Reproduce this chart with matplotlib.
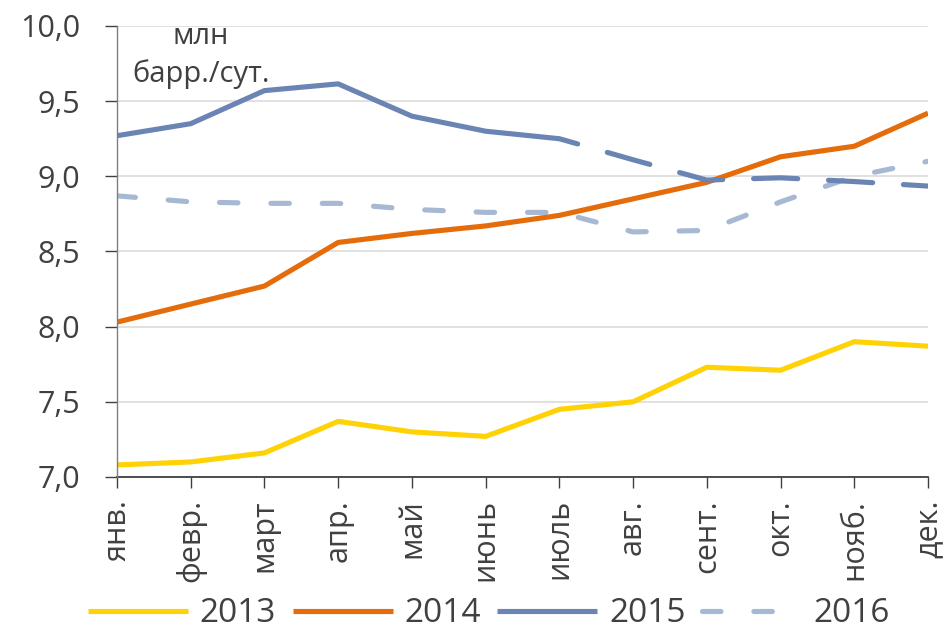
'''
Oil production by month, 2013-2016 (million barrels per day)
'''

import matplotlib
matplotlib.use('Agg')
import matplotlib.pyplot as plt

plt.rcParams['font.family'] = ['Open Sans', 'DejaVu Sans']

# Data
MONTHS = ['янв.', 'февр.', 'март', 'апр.', 'май', 'июнь',
          'июль', 'авг.', 'сент.', 'окт.', 'нояб.', 'дек.']
Y_2013 = [7.08, 7.10, 7.16, 7.37, 7.30, 7.27, 7.45, 7.50, 7.73, 7.71, 7.90, 7.87]
Y_2014 = [8.03, 8.15, 8.27, 8.56, 8.62, 8.67, 8.74, 8.85, 8.96, 9.13, 9.20, 9.42]
Y_2015 = [9.27, 9.35, 9.57, 9.615, 9.40, 9.30, 9.25, 9.11, 8.975, 8.99, 8.965, 8.935]
Y_2016 = [8.87, 8.83, 8.82, 8.82, 8.78, 8.76, 8.76, 8.63, 8.64, 8.83, 9.00, 9.10]
SPLIT_2015 = 6  # 2015 is solid up to July, dashed after
Y_TICKS = [7.0, 7.5, 8.0, 8.5, 9.0, 9.5, 10.0]
LEGEND_LABELS = ['2013', '2014', '2015', '2016']

# Colours
YELLOW = '#FFD205'
ORANGE = '#E46C0A'
BLUE = '#6A85B3'
LIGHT_BLUE = '#A6B8D2'
TEXT = '#404040'

LW = 3.7


def main():
    fig = plt.figure(figsize=(9.47, 6.32), dpi=100)
    ax = fig.add_axes([0.1235, 0.2453, 0.9800 - 0.1235, 0.9589 - 0.2453])

    x = list(range(len(MONTHS)))

    ax.plot(x, Y_2016, color=LIGHT_BLUE, lw=LW, dashes=(3.6, 6.4),
            dash_capstyle='round', solid_capstyle='round', label=LEGEND_LABELS[3], zorder=3)
    ax.plot(x, Y_2013, color=YELLOW, lw=LW, solid_capstyle='butt', label=LEGEND_LABELS[0], zorder=4)
    ax.plot(x, Y_2014, color=ORANGE, lw=LW, solid_capstyle='butt', label=LEGEND_LABELS[1], zorder=4)
    ax.plot(x[:SPLIT_2015 + 1], Y_2015[:SPLIT_2015 + 1], color=BLUE, lw=LW,
            solid_capstyle='butt', label=LEGEND_LABELS[2], zorder=4)
    ax.plot(x[SPLIT_2015:], Y_2015[SPLIT_2015:], color=BLUE, lw=LW,
            linestyle=(4.9, (8.6, 6.0)), dash_capstyle='round', zorder=4)

    # Axes styling
    ax.set_xlim(0, len(MONTHS) - 1)
    ax.set_ylim(7.0, 10.0)
    ax.set_yticks(Y_TICKS)
    ax.set_yticklabels([f'{v:.1f}'.replace('.', ',') for v in Y_TICKS])
    ax.set_xticks(x)
    ax.set_xticklabels(MONTHS, rotation=90)

    ax.grid(axis='y', color='#D9D9D9', lw=1.1, zorder=0)
    ax.set_axisbelow(True)
    for side in ['top', 'right']:
        ax.spines[side].set_visible(False)
    ax.spines['left'].set_color('#7F7F7F')
    ax.spines['left'].set_linewidth(1.0)
    ax.spines['bottom'].set_color('#404040')
    ax.spines['bottom'].set_linewidth(1.3)
    ax.spines['left'].set_zorder(5)

    ax.tick_params(axis='y', length=8.5, width=1.0, color='#404040', pad=18,
                   labelsize=22, labelcolor=TEXT, direction='out')
    ax.tick_params(axis='x', length=8, width=1.0, color='#404040', pad=8,
                   labelsize=22, labelcolor=TEXT, direction='out')

    # Unit label
    fig.text(201 / 947, 1 - 37 / 632, 'млн', ha='center', va='center',
             fontsize=21, color=TEXT)
    fig.text(201 / 947, 1 - 74 / 632, 'барр./сут.', ha='center', va='center',
             fontsize=21, color=TEXT)

    # Legend in 2013, 2014, 2015, 2016 order
    handles, labels = ax.get_legend_handles_labels()
    order = [labels.index(lab) for lab in LEGEND_LABELS]
    leg = fig.legend([handles[i] for i in order], [labels[i] for i in order],
                     loc='center', bbox_to_anchor=(489 / 947, 1 - 614 / 632),
                     ncol=4, frameon=False, fontsize=24, handlelength=3.0,
                     handletextpad=0.35, columnspacing=0.5, borderpad=0)
    for t in leg.get_texts():
        t.set_color(TEXT)

    fig.savefig('out.png', dpi=100)
    plt.close(fig)


if __name__ == '__main__':
    main()
